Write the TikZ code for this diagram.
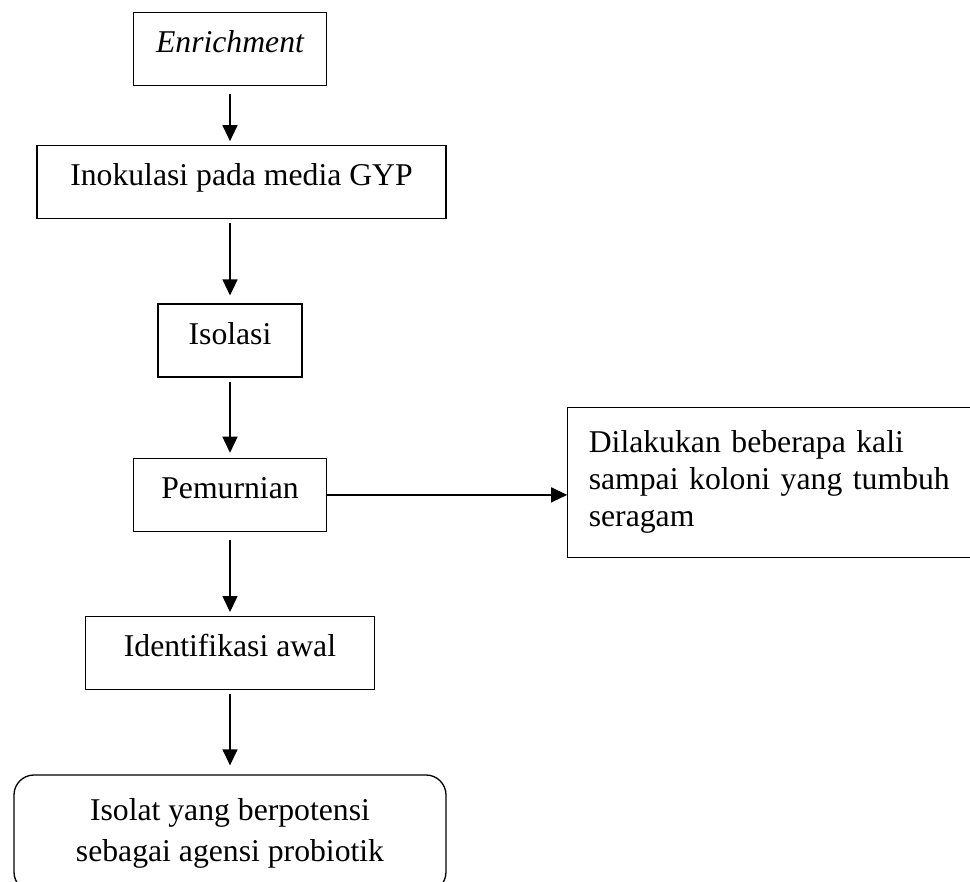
\documentclass[tikz,border=0pt]{standalone}
\usepackage{fontspec}
\setmainfont{Liberation Serif}
\usetikzlibrary{positioning,arrows.meta}

\begin{document}
\begin{tikzpicture}[
  x=1pt, y=1pt,
  font=\fontsize{31.7}{37}\selectfont,
  kotak/.style={draw, line width=1.3pt, inner xsep=0pt, inner ysep=0pt, text height=40pt, text depth=33pt},
  catatan/.style={draw, line width=1.3pt, align=left, inner xsep=21pt},
  panah/.style={-{Triangle[length=16pt, width=15pt]}, line width=1.3pt}
]
\useasboundingbox (0,0) rectangle (970,-882);
\node[kotak, minimum width=193pt] (enrich) at (230,-49) {\itshape Enrichment};
\node[kotak, minimum width=409pt, below=59pt of enrich, xshift=11.5pt] (inokulasi) {Inokulasi pada media GYP};
\node[kotak, minimum width=144pt, below=84pt of inokulasi, xshift=-11.5pt] (isolasi) {Isolasi};
\node[kotak, minimum width=193pt, below=80pt of isolasi] (pemurnian) {Pemurnian};
\node[kotak, minimum width=289pt, below=84pt of pemurnian] (identifikasi) {Identifikasi awal};
\node[draw, line width=1.3pt, rounded corners=20pt, minimum width=432pt, minimum height=117pt, align=center, below=84pt of identifikasi] (isolat) {Isolat yang berpotensi\\[4pt] sebagai agensi probiotik};
\node[catatan, text width=388pt, minimum height=150pt, right=240pt of pemurnian, yshift=12.5pt] (ulang) {Dilakukan beberapa kali\\ sampai koloni yang tumbuh\\ seragam};

% alur utama
\draw[panah, shorten <=8pt, shorten >=4pt] (enrich) -- (enrich |- inokulasi.north);
\draw[panah, shorten <=4pt, shorten >=8pt] (inokulasi.south -| isolasi) -- (isolasi);
\draw[panah, shorten <=4pt, shorten >=5pt] (isolasi) -- (pemurnian);
\draw[panah, shorten <=8pt, shorten >=4pt] (pemurnian) -- (identifikasi);
\draw[panah, shorten <=4pt, shorten >=9pt] (identifikasi) -- (isolat);
% pengulangan
\draw[panah] (pemurnian) -- (pemurnian -| ulang.west);
\end{tikzpicture}
\end{document}
